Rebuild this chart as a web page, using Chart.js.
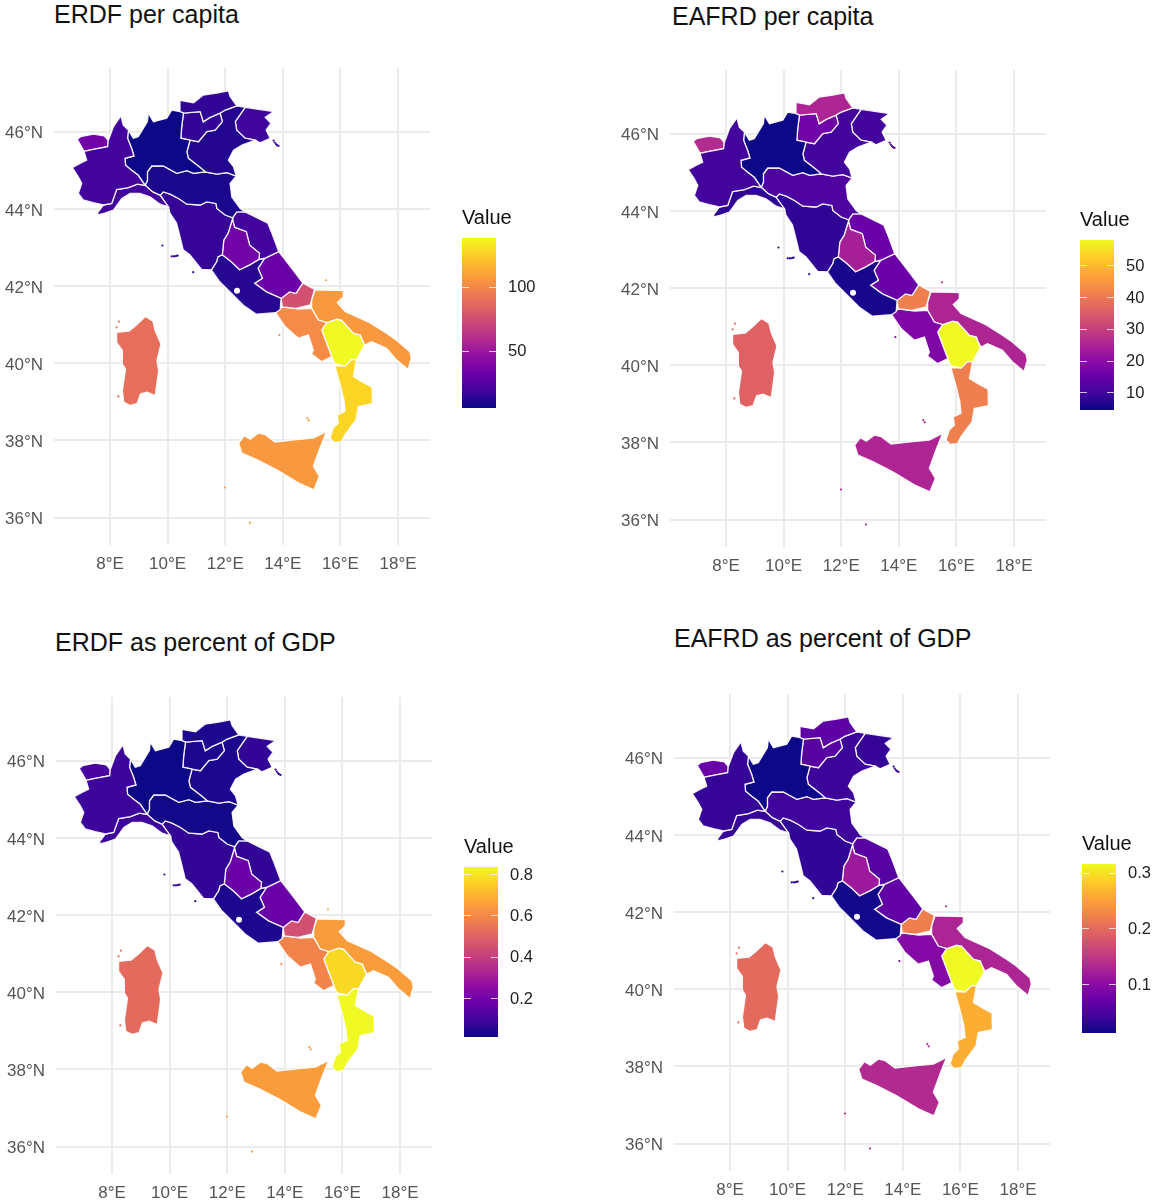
<!DOCTYPE html>
<html>
<head>
<meta charset="utf-8">
<title>Italy regions</title>
<script src="https://cdn.jsdelivr.net/npm/chart.js@4/dist/chart.umd.min.js"></script>
<style>
  body { margin: 0; background: #fff; width: 1156px; height: 1200px; position: relative; overflow: hidden; }
  canvas { position: absolute; }
  .title { position: absolute; font: 25px/30px "Liberation Sans", Arial, sans-serif; color: #111; white-space: nowrap; }
</style>
</head>
<body>
<script>
// region outlines, [lon, lat]
const piemonte = [[7.94,45.77],[8.12,46.13],[8.38,46.41],[8.46,46.17],[8.64,46.04],[8.61,45.83],[8.75,45.57],[8.83,45.37],[8.52,45.31],[8.54,45.13],[8.75,45.0],[8.98,44.87],[9.22,44.61],[8.95,44.64],[8.64,44.55],[8.23,44.50],[8.06,44.14],[7.77,44.10],[7.42,44.16],[7.07,44.23],[6.90,44.40],[7.02,44.66],[6.90,44.83],[6.69,45.07],[6.96,45.18],[7.19,45.26],[7.10,45.49],[7.42,45.54],[7.92,45.61]];
const valleAosta = [[6.86,45.80],[6.98,45.87],[7.42,45.94],[7.80,45.89],[7.94,45.77],[7.92,45.61],[7.42,45.54],[7.10,45.49],[6.98,45.65]];
const liguria = [[7.77,44.10],[8.06,44.14],[8.23,44.50],[8.64,44.55],[8.95,44.64],[9.22,44.61],[9.48,44.44],[9.74,44.35],[10.03,44.05],[9.74,44.12],[9.39,44.31],[9.04,44.40],[8.70,44.40],[8.41,44.27],[8.12,43.97],[7.77,43.88],[7.56,43.84],[7.59,43.92]];
const lombardia = [[8.64,46.04],[8.81,45.83],[8.98,45.87],[9.30,46.26],[9.33,46.48],[9.51,46.26],[9.97,46.35],[10.14,46.56],[10.43,46.52],[10.55,46.48],[10.49,46.13],[10.46,45.83],[10.78,45.78],[10.67,45.48],[10.72,45.31],[11.13,45.07],[11.30,44.96],[10.90,44.92],[10.67,44.99],[10.32,44.92],[9.85,45.11],[9.45,45.11],[9.30,44.96],[9.30,44.74],[9.22,44.61],[8.98,44.87],[8.75,45.0],[8.54,45.13],[8.52,45.31],[8.83,45.37],[8.75,45.57],[8.61,45.83]];
const bolzano = [[10.43,46.81],[10.90,46.75],[11.24,46.95],[11.71,47.0],[12.11,47.06],[12.17,46.91],[12.40,46.67],[12.0,46.56],[11.82,46.48],[11.48,46.37],[11.24,46.26],[11.13,46.52],[10.55,46.48],[10.43,46.52]];
const trento = [[10.55,46.48],[11.13,46.52],[11.24,46.26],[11.48,46.37],[11.82,46.48],[11.90,46.26],[11.65,46.04],[11.36,46.0],[11.07,45.74],[10.78,45.78],[10.46,45.83],[10.49,46.13]];
const veneto = [[12.40,46.67],[12.69,46.63],[12.35,46.26],[12.40,46.04],[12.69,45.83],[13.04,45.78],[12.58,45.65],[12.29,45.52],[12.11,45.26],[12.29,45.09],[12.38,44.85],[12.06,44.94],[11.71,44.90],[11.30,44.96],[11.13,45.07],[10.72,45.31],[10.67,45.48],[10.78,45.78],[11.07,45.74],[11.36,46.0],[11.65,46.04],[11.90,46.26],[11.82,46.48],[12.0,46.56]];
const friuli = [[12.69,46.63],[13.68,46.52],[13.39,46.37],[13.59,46.22],[13.42,46.04],[13.56,45.83],[13.21,45.71],[13.04,45.78],[12.69,45.83],[12.40,46.04],[12.35,46.26]];
const emilia = [[9.22,44.61],[9.30,44.74],[9.30,44.96],[9.45,45.11],[9.85,45.11],[10.32,44.92],[10.67,44.99],[10.90,44.92],[11.30,44.96],[11.71,44.90],[12.06,44.94],[12.38,44.85],[12.17,44.66],[12.23,44.31],[12.52,44.01],[12.69,43.92],[12.40,43.92],[12.26,43.77],[12.0,43.84],[11.71,44.01],[11.68,44.14],[11.36,44.18],[11.13,44.10],[10.67,44.12],[10.38,44.27],[10.09,44.38],[9.85,44.44],[9.74,44.35],[9.48,44.44]];
const toscana = [[9.74,44.35],[9.85,44.44],[10.09,44.38],[10.38,44.27],[10.67,44.12],[11.13,44.10],[11.36,44.18],[11.68,44.14],[11.71,44.01],[12.0,43.84],[12.26,43.77],[12.25,43.73],[12.10,43.37],[11.95,43.19],[11.90,42.81],[11.75,42.76],[11.70,42.63],[11.52,42.42],[11.18,42.43],[10.77,42.81],[10.54,42.94],[10.40,43.37],[10.31,43.63],[10.08,43.89],[10.03,44.05]];
const umbria = [[12.25,43.73],[12.33,43.52],[12.73,43.41],[12.85,43.06],[13.19,42.85],[13.17,42.69],[12.85,42.55],[12.50,42.42],[12.21,42.63],[11.90,42.81],[11.95,43.19],[12.10,43.37]];
const marche = [[12.25,43.73],[12.26,43.77],[12.40,43.92],[12.69,43.92],[13.48,43.63],[13.60,43.41],[13.86,42.89],[13.37,42.72],[13.17,42.69],[13.19,42.85],[12.85,43.06],[12.73,43.41],[12.33,43.52]];
const lazio = [[11.90,42.81],[12.21,42.63],[12.50,42.42],[12.85,42.55],[13.17,42.69],[13.37,42.72],[13.14,42.46],[13.29,42.20],[13.02,42.07],[13.43,41.85],[13.94,41.68],[13.91,41.39],[13.75,41.31],[13.08,41.27],[12.62,41.51],[12.10,41.90],[11.81,42.11],[11.52,42.42],[11.70,42.63],[11.75,42.76]];
const abruzzo = [[13.37,42.72],[13.86,42.89],[14.35,42.42],[14.69,42.08],[14.46,41.81],[14.23,41.85],[13.94,41.68],[13.43,41.85],[13.02,42.07],[13.29,42.20],[13.14,42.46]];
const molise = [[14.46,41.81],[14.69,42.08],[15.10,41.91],[14.95,41.51],[14.46,41.42],[13.98,41.46],[13.94,41.68],[14.23,41.85]];
const campania = [[13.98,41.46],[13.75,41.31],[14.08,40.95],[14.54,40.65],[14.89,40.73],[15.06,40.34],[15.0,40.24],[15.35,40.04],[15.70,40.17],[15.35,40.86],[15.52,41.05],[15.23,41.12],[15.0,41.42],[14.54,41.40]];
const puglia = [[15.12,41.90],[16.12,41.88],[16.10,41.72],[15.89,41.57],[16.16,41.34],[17.02,41.05],[17.60,40.78],[17.94,40.60],[18.41,40.30],[18.46,40.13],[18.35,39.84],[17.94,40.09],[17.60,40.39],[17.08,40.56],[16.85,40.47],[16.73,40.65],[16.70,40.73],[16.45,40.78],[16.04,41.12],[15.87,41.14],[15.52,41.05],[15.23,41.12],[15.0,41.42],[15.0,41.64]];
const basilicata = [[15.52,41.05],[15.87,41.14],[16.04,41.12],[16.45,40.78],[16.70,40.73],[16.73,40.65],[16.83,40.46],[16.56,40.09],[16.39,40.10],[16.16,39.93],[15.81,39.98],[15.70,40.17],[15.35,40.86]];
const calabria = [[15.81,39.93],[16.16,39.93],[16.39,40.10],[16.56,40.09],[16.45,39.66],[16.73,39.53],[17.10,39.38],[17.11,38.95],[16.62,38.88],[16.54,38.53],[16.16,38.15],[16.04,37.97],[15.78,37.95],[15.64,38.06],[15.75,38.32],[15.93,38.45],[15.89,38.66],[16.16,38.75],[16.12,39.05],[15.98,39.48]];
const sicilia = [[15.52,38.23],[15.31,37.84],[15.06,37.33],[15.27,37.07],[15.08,36.72],[14.54,36.90],[13.79,37.24],[13.10,37.50],[12.58,37.67],[12.47,37.93],[12.66,38.12],[12.87,38.03],[13.16,38.19],[13.39,38.15],[13.73,37.96],[14.48,38.02],[15.06,38.06]];
const sardegna = [[8.23,40.80],[8.66,40.83],[8.89,40.97],[9.23,41.21],[9.49,41.09],[9.57,40.84],[9.77,40.50],[9.63,40.07],[9.69,39.81],[9.57,39.16],[9.29,39.25],[9.06,39.21],[8.94,38.95],[8.69,38.91],[8.48,38.99],[8.43,39.29],[8.54,39.85],[8.43,39.98],[8.43,40.33],[8.23,40.54]];

const regions = [piemonte, valleAosta, liguria, lombardia, bolzano, trento, veneto, friuli, emilia, toscana, umbria, marche, lazio, abruzzo, molise, campania, puglia, basilicata, calabria, sicilia, sardegna];

// small islands: lon, lat, index in regions
const islands = [[9.82,43.05,9],[10.14,42.77,9],[10.20,42.77,9],[10.25,42.77,9],[10.30,42.78,9],[10.35,42.79,9],[10.89,42.36,9],[13.68,45.77,7],[13.72,45.72,7],[13.76,45.68,7],[13.80,45.65,7],[13.85,45.63,7],[13.88,40.73,15],[14.85,38.58,19],[14.90,38.52,19],[15.50,42.15,16],[11.99,36.78,19],[12.86,35.87,19],[8.31,41.08,20],[8.23,40.93,20],[8.29,39.14,20]];
const romeHole = [[12.41,41.88]];

const lonTicks = [8, 10, 12, 14, 16, 18];
const latTicks = [36, 38, 40, 42, 44, 46];

// values in the same order as regions
const erdfCapita = [19, 35, 19, 5.5, 15, 15, 11, 18, 9, 16, 35, 19, 12, 32, 76, 101, 106, 138, 127, 106, 89];
const eafrdCapita = [10, 26, 8, 4.4, 25, 16, 10, 10, 11.5, 8, 24, 15, 5.5, 15, 41, 18, 25, 58, 41, 25, 36];
const erdfGdp = [0.085, 0.11, 0.085, 0.011, 0.036, 0.036, 0.036, 0.07, 0.02, 0.07, 0.175, 0.07, 0.036, 0.175, 0.447, 0.587, 0.645, 0.77, 0.834, 0.645, 0.52];
const eafrdGdp = [0.036, 0.073, 0.036, 0.012, 0.064, 0.06, 0.04, 0.036, 0.042, 0.033, 0.115, 0.058, 0.015, 0.067, 0.219, 0.094, 0.128, 0.316, 0.261, 0.134, 0.2];

const erdfCapitaTicks = [50, 100];
const eafrdCapitaTicks = [10, 20, 30, 40, 50];
const erdfGdpTicks = [0.2, 0.4, 0.6, 0.8];
const eafrdGdpTicks = [0.1, 0.2, 0.3];

const plasma = ['#0d0887', '#41049d', '#6a00a8', '#8f0da4', '#b12a90', '#cc4778', '#e16462', '#f2844b', '#fca636', '#fcce25', '#f0f921'];

// where each panel goes on the page
const panels = [
    { title: 'ERDF per capita', values: erdfCapita, ticks: erdfCapitaTicks, range: [5.5, 138], left: 0, top: 68, titleX: 54, titleY: -1, barX: 462, barY: 238, barH: 170 },
    { title: 'EAFRD per capita', values: eafrdCapita, ticks: eafrdCapitaTicks, range: [4.4, 58], left: 616, top: 70, titleX: 672, titleY: 1, barX: 1080, barY: 240, barH: 170 },
    { title: 'ERDF as percent of GDP', values: erdfGdp, ticks: erdfGdpTicks, range: [0.011, 0.834], left: 2, top: 697, titleX: 55, titleY: 627, barX: 464, barY: 867, barH: 170 },
    { title: 'EAFRD as percent of GDP', values: eafrdGdp, ticks: eafrdGdpTicks, range: [0.012, 0.316], left: 620, top: 694, titleX: 674, titleY: 623, barX: 1082, barY: 864, barH: 169 }
];

function hexToRgb(hex) {
    return [1, 3, 5].map(i => parseInt(hex.substr(i, 2), 16));
}

function plasmaColor(t) {
    const pos = Math.max(0, Math.min(1, t)) * (plasma.length - 1);
    const i = Math.min(Math.floor(pos), plasma.length - 2);
    const a = hexToRgb(plasma[i]);
    const b = hexToRgb(plasma[i + 1]);
    const f = pos - i;
    return 'rgb(' + a.map((v, k) => Math.round(v + (b[k] - v) * f)).join(',') + ')';
}

function addCanvas(left, top, width, height) {
    const canvas = document.createElement('canvas');
    canvas.width = width;
    canvas.height = height;
    canvas.style.left = left + 'px';
    canvas.style.top = top + 'px';
    canvas.style.width = width + 'px';
    canvas.style.height = height + 'px';
    document.body.appendChild(canvas);
    return canvas;
}

function mapChart(panel) {
    const colorOf = v => plasmaColor((v - panel.range[0]) / (panel.range[1] - panel.range[0]));

    const datasets = [
        {
            data: romeHole.map(p => ({ x: p[0], y: p[1] })),
            pointRadius: 3,
            pointBorderWidth: 0,
            pointBackgroundColor: '#fff'
        },
        {
            data: islands.map(p => ({ x: p[0], y: p[1] })),
            pointRadius: 1.1,
            pointBorderWidth: 0,
            pointBackgroundColor: islands.map(p => colorOf(panel.values[p[2]]))
        }
    ];

    regions.forEach((shape, i) => {
        datasets.push({
            data: shape.concat([shape[0]]).map(p => ({ x: p[0], y: p[1] })),
            showLine: true,
            fill: 'shape',
            tension: 0,
            pointRadius: 0,
            borderWidth: 1.3,
            borderColor: 'rgba(255,255,255,0.9)',
            backgroundColor: colorOf(panel.values[i])
        });
    });

    new Chart(addCanvas(panel.left, panel.top, 430, 517), {
        type: 'scatter',
        data: { datasets: datasets },
        options: {
            responsive: false,
            animation: false,
            events: [],
            layout: { autoPadding: false },
            plugins: { legend: { display: false }, tooltip: { enabled: false } },
            scales: {
                x: {
                    type: 'linear',
                    min: 6.056,
                    max: 19.11,
                    afterFit: scale => { scale.height = 40; scale.paddingLeft = 0; scale.paddingRight = 0; },
                    afterBuildTicks: axis => { axis.ticks = lonTicks.map(v => ({ value: v })); },
                    grid: { color: '#ebebeb', lineWidth: 2, drawTicks: false },
                    border: { display: false },
                    ticks: {
                        padding: 9,
                        color: '#555',
                        maxRotation: 0,
                        font: { family: 'Liberation Sans', size: 17 },
                        callback: v => v + '°E'
                    }
                },
                y: {
                    type: 'linear',
                    min: 35.29,
                    max: 47.65,
                    afterFit: scale => { scale.width = 54; scale.paddingTop = 0; scale.paddingBottom = 0; },
                    afterBuildTicks: axis => { axis.ticks = latTicks.map(v => ({ value: v })); },
                    grid: { color: '#ebebeb', lineWidth: 2, drawTicks: false },
                    border: { display: false },
                    ticks: {
                        padding: 11,
                        labelOffset: 2,
                        color: '#555',
                        font: { family: 'Liberation Sans', size: 17 },
                        callback: v => v + '°N'
                    }
                }
            }
        }
    });
}

// white marks on both sides of the colour bar
const barTicks = {
    id: 'barTicks',
    afterDatasetsDraw(chart) {
        const area = chart.chartArea;
        const ctx = chart.ctx;
        ctx.save();
        ctx.strokeStyle = 'rgba(255,255,255,0.75)';
        ctx.lineWidth = 1;
        chart.scales.y.ticks.forEach(t => {
            const y = Math.round(chart.scales.y.getPixelForValue(t.value)) + 0.5;
            ctx.beginPath();
            ctx.moveTo(area.left, y);
            ctx.lineTo(area.left + 7, y);
            ctx.moveTo(area.right - 7, y);
            ctx.lineTo(area.right, y);
            ctx.stroke();
        });
        ctx.restore();
    }
};

function colorBar(panel) {
    const titleSpace = 38;
    const canvas = addCanvas(panel.barX, panel.barY - titleSpace, 74, panel.barH + titleSpace);

    new Chart(canvas, {
        type: 'bar',
        data: {
            labels: ['Value'],
            datasets: [{
                data: [panel.range],
                categoryPercentage: 1,
                barPercentage: 1,
                borderWidth: 0,
                backgroundColor: ctx => {
                    const area = ctx.chart.chartArea;
                    if (!area) return plasma[0];
                    const g = ctx.chart.ctx.createLinearGradient(0, area.bottom, 0, area.top);
                    plasma.forEach((c, i) => g.addColorStop(i / (plasma.length - 1), c));
                    return g;
                }
            }]
        },
        options: {
            responsive: false,
            animation: false,
            events: [],
            layout: { padding: 0, autoPadding: false },
            plugins: {
                legend: { display: false },
                tooltip: { enabled: false },
                title: {
                    display: true,
                    text: 'Value',
                    align: 'start',
                    color: '#111',
                    font: { family: 'Liberation Sans', size: 20, weight: 'normal', lineHeight: 1.2 },
                    padding: { top: 6, bottom: 8 }
                }
            },
            scales: {
                x: { display: false },
                y: {
                    position: 'right',
                    min: panel.range[0],
                    max: panel.range[1],
                    afterFit: scale => { scale.width = 40; scale.paddingTop = 0; scale.paddingBottom = 0; },
                    afterBuildTicks: axis => { axis.ticks = panel.ticks.map(v => ({ value: v })); },
                    grid: { display: false, drawTicks: false },
                    border: { display: false },
                    ticks: {
                        padding: 12,
                        labelOffset: 1,
                        color: '#222',
                        font: { family: 'Liberation Sans', size: 16.5 },
                        callback: v => String(v)
                    }
                }
            }
        },
        plugins: [barTicks]
    });
}

panels.forEach(panel => {
    const title = document.createElement('div');
    title.className = 'title';
    title.textContent = panel.title;
    title.style.left = panel.titleX + 'px';
    title.style.top = panel.titleY + 'px';
    document.body.appendChild(title);

    mapChart(panel);
    colorBar(panel);
});
</script>
</body>
</html>
